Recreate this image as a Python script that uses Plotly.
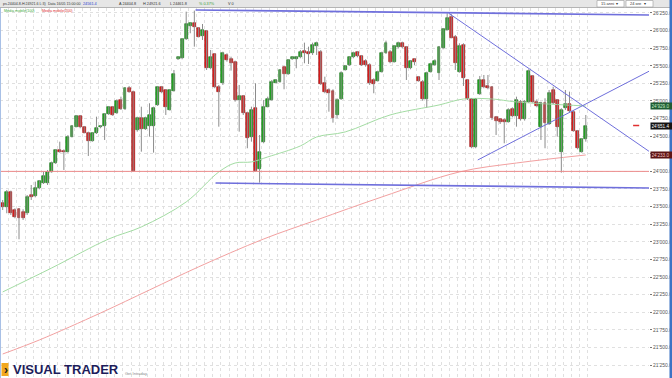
import plotly.graph_objects as go

# ---------------- data ----------------
opens = [23556, 23499, 23703, 23452, 23462, 23429, 23405, 23665, 23651, 23769,
         23840, 23831, 23996, 24115, 24304, 24295, 24280, 24493, 24635, 24787,
         24635, 24550, 24437, 24541, 24626, 24645, 24815, 24910, 24825, 25014,
         24886, 25180, 25128, 24588, 24754, 24607, 24645, 24645, 24943, 25194,
         25156, 24872, 25147, 25596, 25606, 25876, 26065, 26103, 26032, 25923,
         25994, 25464, 25663, 25203, 25251, 25653, 25592, 25558, 25014, 25071,
         24834, 24484, 24896, 24030, 24422, 24919, 25014, 25260, 25274, 25478,
         25383, 25592, 25592, 25620, 25715, 25700, 25677, 25781, 25700, 25260,
         25156, 25147, 24801, 25024, 25440, 25511, 25620, 25700, 25639, 25573,
         25511, 25298, 25289, 25416, 25677, 25700, 25558, 25771, 25819, 25771,
         25464, 25592, 25345, 25274, 25024, 25416, 25511, 25402, 25748, 26008,
         26197, 25913, 25416, 25795, 25298, 25024, 24342, 25099, 25298, 25213,
         25194, 24768, 24740, 24730, 24706, 24882, 24787, 24990, 24740, 24990,
         25355, 24990, 24626, 24967, 24673, 25156, 25014, 24280, 24896, 24957,
         24848, 24579, 24280, 24456]
highs = [23594, 23736, 23727, 23476, 23476, 23462, 23665, 23807, 23854, 23878,
         23996, 24020, 24139, 24318, 24422, 24313, 24517, 24659, 24801, 24801,
         24645, 24564, 24550, 24777, 24659, 24825, 24929, 24929, 25024, 25061,
         25194, 25213, 25147, 24777, 24919, 24777, 24967, 24919, 25213, 25213,
         25166, 25166, 25440, 25629, 25890, 26268, 26112, 26283, 26046, 26093,
         26008, 25724, 25677, 25227, 25700, 25677, 25629, 25573, 25227, 25085,
         24848, 24919, 25251, 24517, 25014, 25061, 25298, 25308, 25450, 25487,
         25592, 25629, 25639, 25724, 25828, 25771, 25828, 25842, 25724, 25345,
         25180, 25166, 25038, 25421, 25511, 25629, 25700, 25710, 25653, 25592,
         25535, 25322, 25431, 25700, 25857, 25724, 25795, 25842, 25842, 25781,
         25582, 25606, 25355, 25298, 25416, 25544, 25592, 25781, 26032, 26245,
         26235, 25937, 25819, 25819, 25308, 25038, 25038, 25355, 25369, 25369,
         25213, 24787, 24754, 24754, 24896, 24910, 25061, 25014, 25014, 25450,
         25369, 25024, 24990, 25038, 25156, 25203, 25024, 24896, 25156, 25132,
         24863, 24588, 24470, 24801]
lows = [23452, 23405, 23381, 23334, 23036, 23310, 23381, 23594, 23632, 23746,
        23821, 23807, 23982, 24105, 24266, 24020, 24266, 24484, 24626, 24612,
        24541, 24219, 24422, 24531, 24612, 24446, 24801, 24787, 24815, 24872,
        24872, 25118, 23996, 24564, 24280, 24588, 24493, 24266, 24929, 25109,
        24801, 24863, 25132, 25582, 25592, 25866, 25961, 25771, 25904, 25866,
        25440, 25450, 25180, 24635, 25227, 25558, 25431, 24990, 24564, 24801,
        24328, 24422, 23996, 23840, 24399, 24910, 25005, 25251, 25260, 25166,
        25369, 25582, 25464, 25606, 25535, 25525, 25653, 25653, 25227, 25109,
        24848, 24692, 24754, 25014, 25431, 25497, 25606, 25620, 25497, 25487,
        25227, 25109, 25274, 25402, 25667, 25535, 25544, 25748, 25748, 25298,
        25450, 25511, 25274, 25005, 24910, 25402, 25497, 25298, 25734, 25999,
        25890, 25440, 25402, 25213, 25014, 24328, 24328, 25085, 25180, 25166,
        24730, 24517, 24673, 24399, 24692, 24768, 24635, 24721, 24721, 24976,
        24976, 24910, 24446, 24328, 24659, 24957, 24493, 23982, 24872, 24834,
        24564, 24313, 24266, 24422]
closes = [23490, 23713, 23405, 23358, 23334, 23334, 23641, 23632, 23769, 23864,
          23940, 23996, 24124, 24304, 24280, 24276, 24493, 24645, 24787, 24635,
          24550, 24437, 24541, 24621, 24650, 24815, 24919, 24801, 25005, 24882,
          25180, 25128, 24011, 24754, 24598, 24754, 24801, 24896, 25194, 25132,
          24910, 25156, 25383, 25620, 25876, 26093, 26103, 26055, 25913, 26008,
          25464, 25629, 25203, 25132, 25677, 25582, 25544, 25014, 25071, 24834,
          24470, 24872, 24011, 24280, 24919, 25024, 25274, 25298, 25440, 25383,
          25582, 25620, 25629, 25700, 25677, 25667, 25795, 25828, 25241, 25132,
          25118, 24754, 25014, 25402, 25497, 25620, 25677, 25639, 25511, 25511,
          25260, 25241, 25416, 25677, 25828, 25558, 25781, 25819, 25762, 25464,
          25568, 25558, 25289, 25024, 25402, 25525, 25573, 25771, 26017, 26174,
          25890, 25535, 25781, 25322, 25024, 24342, 25024, 25298, 25194, 25184,
          24754, 24721, 24706, 24702, 24872, 24787, 25014, 24740, 24990, 25431,
          24990, 24929, 24967, 24683, 25109, 24976, 24635, 24872, 24957, 24863,
          24579, 24328, 24456, 24651.4]

# moving averages (values read at selected bars)
ma100_idx = [0, 12, 26, 34, 45, 53, 57, 61, 65, 73, 77, 84, 95, 107, 113, 120, 126, 143]
ma100_val = [22288, 22628, 23040, 23211, 23566, 23992, 24119, 24134, 24205, 24361,
             24489, 24560, 24801, 24943, 25028, 25028, 24986, 24929]
ma200_idx = [0, 9, 24, 36, 48, 64, 77, 93, 112, 126, 143]
ma200_val = [21407, 21606, 21989, 22316, 22643, 23040, 23310, 23637, 23992, 24119, 24233]

# drawn trend lines: (start bar, start price, end bar, end price)
trend_x0 = [47.3, 52.2, 109.4, 116.5]
trend_y0 = [26292, 23835, 26245, 24162]
trend_x1 = [159.1, 159.1, 159.1, 159.1]
trend_y1 = [26221, 23764, 24261, 25440]
trend_w = [1.6, 1.6, 1.0, 1.0]

support_level = 24000
y_ticks = [21250, 21500, 21750, 22000, 22250, 22500, 22750, 23000, 23250, 23500,
           23750, 24000, 24250, 24500, 24750, 25000, 25250, 25500, 25750, 26000, 26250]

W, H = 672, 378
n = len(closes)
idx = list(range(n))

def px_x(p):
    return p / W

def px_y(p):
    return 1 - p / H

GREEN, GREEN_EDGE = "#23a823", "#0f6a0f"
RED, RED_EDGE = "#e01c1c", "#8e0d0d"
BLUE = "#6f6fdc"
GRID = "#e0e0e0"

fig = go.Figure()

# moving averages
fig.add_trace(go.Scatter(x=ma100_idx, y=ma100_val, mode="lines",
                         line=dict(color="#a3dca3", width=1, shape="spline"), hoverinfo="skip"))
fig.add_trace(go.Scatter(x=ma200_idx, y=ma200_val, mode="lines",
                         line=dict(color="#f2a0a0", width=1, shape="spline"), hoverinfo="skip"))

# wicks
wx, wy = [], []
for i in idx:
    wx += [i, i, None]
    wy += [lows[i], highs[i], None]
fig.add_trace(go.Scatter(x=wx, y=wy, mode="lines", line=dict(color="#8c8c8c", width=1),
                         hoverinfo="skip"))

# bodies
base = [min(o, c) for o, c in zip(opens, closes)]
hgt = [max(abs(c - o), 10) for o, c in zip(opens, closes)]
fill = [GREEN if c >= o else RED for o, c in zip(opens, closes)]
edge = [GREEN_EDGE if c >= o else RED_EDGE for o, c in zip(opens, closes)]
fig.add_trace(go.Bar(x=idx, base=base, y=hgt, width=0.72,
                     marker=dict(color=fill, line=dict(color=edge, width=0.6)),
                     hoverinfo="skip"))

# trend lines
for x0, y0, x1, y1, w in zip(trend_x0, trend_y0, trend_x1, trend_y1, trend_w):
    fig.add_trace(go.Scatter(x=[x0, x1], y=[y0, y1], mode="lines",
                             line=dict(color=BLUE, width=w), hoverinfo="skip"))

# last-price marker dash
fig.add_trace(go.Scatter(x=[154.6, 156.1], y=[closes[-1], closes[-1]], mode="lines",
                         line=dict(color="#e03030", width=1.5), hoverinfo="skip"))

shapes = [
    # support line
    dict(type="line", xref="x domain", yref="y", x0=0, x1=1, y0=support_level, y1=support_level,
         line=dict(color="#ec8a8a", width=1)),
    # header bar
    dict(type="rect", xref="paper", yref="paper", x0=0, x1=1, y0=px_y(7.5), y1=1,
         fillcolor="#e6e6e6", line=dict(width=0), layer="above"),
    dict(type="line", xref="paper", yref="paper", x0=0, x1=1, y0=px_y(7.5), y1=px_y(7.5),
         line=dict(color="#b4b4b4", width=1), layer="above"),
    # dropdowns
    dict(type="rect", xref="paper", yref="paper", x0=px_x(597), x1=px_x(624), y0=px_y(7), y1=px_y(0.5),
         fillcolor="white", line=dict(color="#9a9a9a", width=0.6), layer="above"),
    dict(type="rect", xref="paper", yref="paper", x0=px_x(626), x1=px_x(653), y0=px_y(7), y1=px_y(0.5),
         fillcolor="white", line=dict(color="#9a9a9a", width=0.6), layer="above"),
    # right / left borders
    dict(type="rect", xref="paper", yref="paper", x0=px_x(669.5), x1=1, y0=0, y1=1,
         fillcolor="#3b73c4", line=dict(width=0), layer="above"),
    dict(type="line", xref="paper", yref="paper", x0=px_x(0.5), x1=px_x(0.5), y0=0, y1=px_y(8),
         line=dict(color="#a8c0e6", width=1), layer="above"),
    # logo square
    dict(type="rect", xref="paper", yref="paper", x0=px_x(1.5), x1=px_x(8.5), y0=px_y(376), y1=px_y(363),
         fillcolor="#f2a81d", line=dict(width=0), layer="above"),
]

ann = []
def txt(x, y, s, size=4, color="#333333", **kw):
    ann.append(dict(xref="paper", yref="paper", x=px_x(x), y=px_y(y), text=s, showarrow=False,
                    xanchor="left", yanchor="middle", font=dict(size=size, color=color,
                    family="Liberation Sans"), **kw))

# header texts
txt(1, 3.8, "ps.24404.8-H:24921.6 L:3)", size=3.6)
txt(46, 3.8, "Data 16/05 15:00:00", size=3.6)
txt(81, 3.8, "24561.4", size=3.8, color="#2a3fd0")
txt(117, 3.8, "A 24404.8", size=3.8)
txt(141, 3.8, "H 24921.6", size=3.8)
txt(168, 3.8, "L 24461.8", size=3.8)
txt(197, 3.8, "% 0.37%", size=3.8, color="#3a9a3a")
txt(226, 3.8, "V 0", size=3.8)
txt(599, 3.8, "15 anni  \u25be", size=4)
txt(628, 3.8, "24 ore  \u25be", size=4)
# legend row
txt(2, 10.5, "Media mobile(100)", size=3.7, color="#3aab3a")
txt(40, 10.5, "Media mobile(200)", size=3.7, color="#dd3030")
# logo
txt(1.8, 369.5, "<b>\u203a</b>", size=12, color="#222222")
txt(11, 369.5, "<b>VISUAL TRADER</b>", size=13, color="#1c1c5a")
txt(123, 373.5, "Get Intraday", size=4, color="#888888")

# right side value boxes
def box(val, bg, fg):
    ann.append(dict(xref="paper", yref="y", x=px_x(650), y=val,
                    text=f"{val:,.1f}".replace(",", "'"), showarrow=False, xanchor="left",
                    yanchor="middle", bgcolor=bg, borderpad=0.5, width=20, align="left",
                    font=dict(size=4.6, color=fg, family="Liberation Sans")))

box(ma100_val[-1], "#1f5c34", "#c8f0c8")
box(closes[-1], "#141414", "#ffffff")
box(ma200_val[-1], "#5c1414", "#f5c8c8")

# tick labels hidden behind a value box in the reference are left blank
box_vals = [ma100_val[-1], closes[-1], ma200_val[-1]]
tick_text = ["" if any(abs(v - b) < 40 for b in box_vals) else f"{v:,.1f}".replace(",", "'")
             for v in y_ticks]

fig.update_layout(
    width=W, height=H, margin=dict(l=0, r=0, t=0, b=0),
    paper_bgcolor="white", plot_bgcolor="white", showlegend=False,
    barmode="overlay", bargap=0,
    shapes=shapes, annotations=ann,
    xaxis=dict(domain=[0, 649 / W], range=[-0.66, 158.5], showticklabels=False,
               tickvals=[k + 0.5 for k in range(1, 145, 2)], showgrid=True,
               gridcolor=GRID, griddash="dot", gridwidth=1, zeroline=False,
               showline=False, ticks=""),
    yaxis=dict(domain=[0, px_y(8)], range=[21066, 26320], side="right",
               tickvals=y_ticks, ticktext=tick_text,
               tickfont=dict(size=5, color="#555555", family="Liberation Sans"),
               ticks="outside", ticklen=2, tickcolor="#777777", showgrid=True,
               gridcolor=GRID, griddash="dot", gridwidth=1, zeroline=False,
               showline=False),
)

fig.write_html("out.html")
